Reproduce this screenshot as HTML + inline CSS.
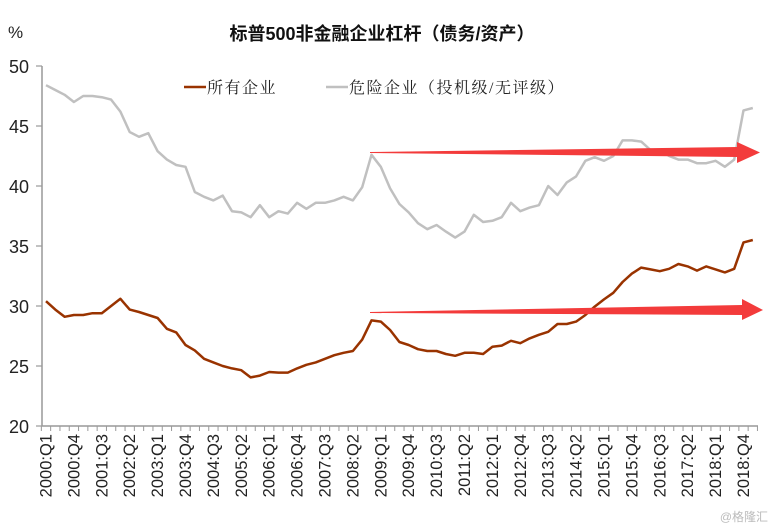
<!DOCTYPE html>
<html><head><meta charset="utf-8"><style>
body{margin:0;background:#fff;}
svg{display:block;font-family:"Liberation Sans","Noto Sans CJK SC",sans-serif;}
</style></head><body>
<svg id="chart" width="771" height="529" viewBox="0 0 771 529" xmlns="http://www.w3.org/2000/svg">
<text x="382" y="40" text-anchor="middle" font-size="18" font-weight="bold" fill="#111">标普500非金融企业杠杆（债务/资产）</text>
<text x="8" y="38" font-size="17" fill="#222">%</text>
<g id="axes"></g>
<g id="series"></g>
<g style="font-family:'Liberation Serif','Noto Serif CJK SC',serif">
<line x1="184" y1="87" x2="206" y2="87" stroke="#993300" stroke-width="2.5"/>
<text x="207" y="93" font-size="16" letter-spacing="1.5" fill="#222">所有企业</text>
<line x1="326" y1="87" x2="348" y2="87" stroke="#c0c0c0" stroke-width="2.5"/>
<text x="349" y="93" font-size="16" letter-spacing="1.5" fill="#222">危险企业（投机级/无评级）</text>
</g>
<polygon points="370,152 737,147 737,142 760,152.5 737,163 737,157 370,153" fill="#f33b3b"/>
<polygon points="370,312 742,305 742,299 763,310 742,320 742,315 370,313" fill="#f33b3b"/>
<text x="768" y="521" text-anchor="end" font-size="12" fill="#bbb">@格隆汇</text>
</svg>
<script>
const years=[];for(let y=2000;y<=2019;y++)years.push(y);
const allFirms=[30.4,29.7,29.1,29.25,29.25,29.4,29.4,30.0,30.6,29.7,29.5,29.25,29.0,28.1,27.8,26.75,26.3,25.6,25.3,25.0,24.8,24.65,24.05,24.2,24.5,24.45,24.45,24.8,25.1,25.3,25.6,25.9,26.1,26.25,27.2,28.8,28.7,28.0,27.0,26.75,26.4,26.25,26.25,26.0,25.85,26.1,26.1,26.0,26.6,26.7,27.1,26.9,27.3,27.6,27.85,28.5,28.5,28.7,29.25,29.95,30.55,31.1,32.0,32.7,33.2,33.05,32.9,33.1,33.5,33.3,32.95,33.3,33.05,32.8,33.1,35.3,35.5];
const riskyFirms=[48.4,48.0,47.6,47.0,47.5,47.5,47.4,47.2,46.2,44.5,44.1,44.4,42.9,42.2,41.75,41.6,39.5,39.1,38.8,39.2,37.9,37.8,37.4,38.4,37.4,37.9,37.7,38.6,38.1,38.6,38.6,38.8,39.1,38.8,39.9,42.6,41.6,39.8,38.5,37.8,36.9,36.4,36.75,36.2,35.7,36.2,37.6,37.0,37.1,37.4,38.6,37.9,38.2,38.4,40.0,39.25,40.3,40.8,42.1,42.4,42.1,42.5,43.8,43.8,43.7,43.0,43.0,42.5,42.2,42.2,41.9,41.9,42.1,41.6,42.2,46.3,46.5];
const yTicks=[20,25,30,35,40,45,50];
const NS="http://www.w3.org/2000/svg";
const n=allFirms.length;
const xs=i=>46+i*9.3;
const ys=v=>426-(v-20)*12;
const axes=document.getElementById('axes'),series=document.getElementById('series');
function mk(tag,attrs,parent){const e=document.createElementNS(NS,tag);for(const k in attrs)e.setAttribute(k,attrs[k]);parent.appendChild(e);return e;}
const ya=mk('line',{x1:42,y1:66,x2:42,y2:426,stroke:'#999','stroke-width':1.5},axes);


yTicks.forEach(v=>{
 const t=mk('line',{x1:36,y1:ys(v),x2:42,y2:ys(v),stroke:'#999','stroke-width':1.2},axes);
 
 
 const l=mk('text',{x:29,y:ys(v)+7,'text-anchor':'end','font-size':18,fill:'#222'},axes);
 l.textContent=v;
 
 
});
const xa=mk('line',{x1:42,y1:426,x2:758,y2:426,stroke:'#999','stroke-width':1.5},axes);


for(let i=0;i<=n;i++){
 const x=xs(i)-4.65;
 const t=mk('line',{x1:x,y1:426,x2:x,y2:431,stroke:'#999','stroke-width':1},axes);
 
 
}
for(let i=0;i<n;i+=3){
 const yr=years[Math.floor(i/4)],q=i%4+1;
 const x=xs(i)+5.5,y=434;
 const l=mk('text',{x:x,y:y,transform:`rotate(-90 ${x} ${y})`,'text-anchor':'end','font-size':16.5,fill:'#222'},axes);
 l.textContent=yr+':Q'+q;
 
 
}
function line(data,color,name){
 const p=mk('polyline',{points:data.map((v,i)=>xs(i)+','+ys(v)).join(' '),fill:'none',stroke:color,'stroke-width':2.5,'stroke-linejoin':'round'},series);
 
 
}
line(riskyFirms,'#c0c0c0','risky-firms-line');
line(allFirms,'#993300','all-firms-line');
</script>
</body></html>
